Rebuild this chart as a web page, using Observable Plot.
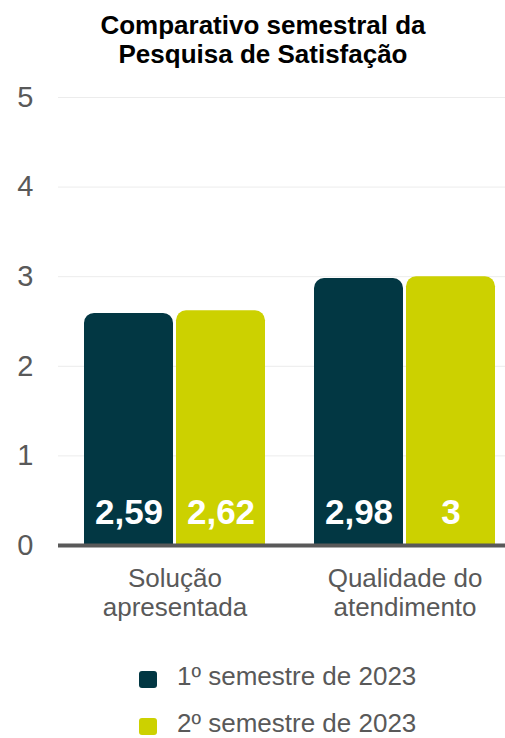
<!DOCTYPE html>
<html><head><meta charset="utf-8">
<script src="https://cdn.jsdelivr.net/npm/d3@7"></script>
<script src="https://cdn.jsdelivr.net/npm/@observablehq/plot@0.6"></script>
<style>
body{margin:0;background:#fff;font-family:"Liberation Sans",Arial,sans-serif;}
#wrap{position:relative;width:505px;height:738px;overflow:hidden;background:#fff;}
#title{position:absolute;left:0;top:11px;width:505px;padding-left:21px;box-sizing:border-box;text-align:center;font-weight:bold;font-size:26px;line-height:28.5px;color:#000;}
#chart{position:absolute;left:0;top:70px;}
.leg{position:absolute;left:177px;font-size:26px;line-height:26px;color:#595959;white-space:nowrap;}
.sw{position:absolute;left:139px;width:18px;height:17px;border-radius:3px;}
</style></head><body>
<div id="wrap">
<div id="title">Comparativo semestral da<br>Pesquisa de Satisfação</div>
<div id="chart"></div>
<div id="legend"></div>
</div>
<script>
const categories = ["Solução apresentada", "Qualidade do atendimento"];
const categoryLabels = ["Solução\napresentada", "Qualidade do\natendimento"];
const seriesNames = ["1º semestre de 2023", "2º semestre de 2023"];
const seriesColors = ["#023743", "#CCD100"];
const semester1 = [2.59, 2.98];
const semester2 = [2.62, 3];
const yTicks = [0, 1, 2, 3, 4, 5];

const fmt = v => String(v).replace(".", ",");
const rows1 = categories.map((c, i) => ({category: c, series: seriesNames[0], value: semester1[i]}));
const rows2 = categories.map((c, i) => ({category: c, series: seriesNames[1], value: semester2[i]}));

const chart = Plot.plot({
  width: 505,
  height: 560,
  marginTop: 27,
  marginBottom: 85,
  marginLeft: 58,
  marginRight: 0,
  style: {fontFamily: "'Liberation Sans', Arial, sans-serif", background: "transparent"},
  x: {domain: categories, range: [83, 496], paddingInner: 0.212, paddingOuter: 0},
  y: {domain: [0, 5]},
  marks: [
    Plot.ruleY(yTicks.filter(d => d > 0), {stroke: "#ececec", strokeWidth: 1}),
    Plot.barY(rows1, {x: "category", y: "value", fill: seriesColors[0], insetRight: 92, ry1: 10}),
    Plot.barY(rows2, {x: "category", y: "value", fill: seriesColors[1], insetLeft: 92, ry1: 10}),
    Plot.ruleY([0], {stroke: "#595959", strokeWidth: 4}),
    Plot.text(rows1, {x: "category", y: 0, text: d => fmt(d.value), dx: -46, dy: -33, fill: "white", fontWeight: "bold", fontSize: 35}),
    Plot.text(rows2, {x: "category", y: 0, text: d => fmt(d.value), dx: 46, dy: -33, fill: "white", fontWeight: "bold", fontSize: 35}),
    Plot.axisY({ticks: yTicks, tickSize: 0, tickPadding: 25, fontSize: 29, fill: "#595959", label: null, tickFormat: d => String(d)}),
    Plot.axisX({tickSize: 0, tickPadding: 22, fontSize: 26, fill: "#595959", label: null, lineHeight: 1.08,
      tickFormat: d => categoryLabels[categories.indexOf(d)]})
  ]
});
document.getElementById("chart").appendChild(chart);

const legend = document.getElementById("legend");
const legTops = [663, 710];
seriesNames.forEach((name, i) => {
  const sw = document.createElement("div");
  sw.className = "sw";
  sw.style.background = seriesColors[i];
  sw.style.top = (legTops[i] + 8) + "px";
  legend.appendChild(sw);
  const t = document.createElement("div");
  t.className = "leg";
  t.style.top = legTops[i] + "px";
  t.textContent = name;
  legend.appendChild(t);
});
</script>
</body></html>
